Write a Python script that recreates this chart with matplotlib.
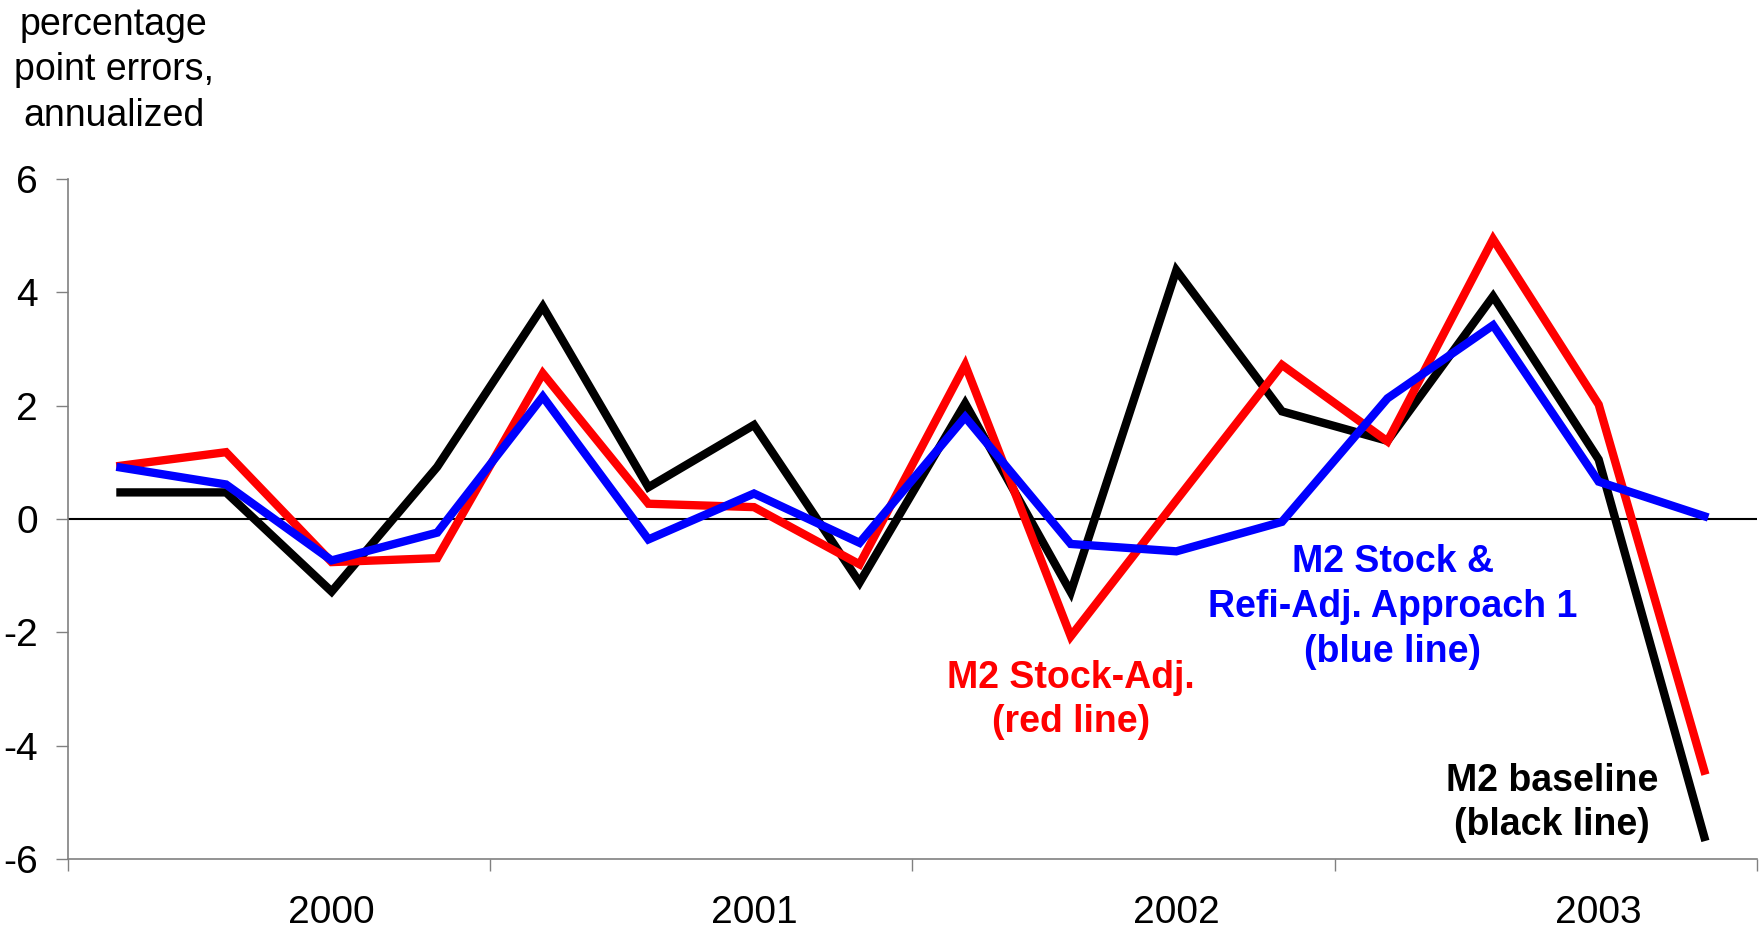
import numpy as np
import matplotlib
matplotlib.use('Agg')
import matplotlib.pyplot as plt
from matplotlib import rc

# quarterly forecast errors, 2000Q1 .. 2003Q4
quarters = np.arange(16)
baseline = [0.47, 0.47, -1.28, 0.92, 3.75, 0.56, 1.66, -1.12, 2.04, -1.29, 4.39, 1.90, 1.38, 3.93, 1.05, -5.61]
stock_adj = [0.94, 1.18, -0.76, -0.69, 2.57, 0.27, 0.21, -0.80, 2.72, -2.07, 0.33, 2.72, 1.37, 4.94, 2.02, -4.44]
refi_adj = [0.91, 0.61, -0.73, -0.24, 2.16, -0.36, 0.45, -0.42, 1.80, -0.44, -0.57, -0.05, 2.13, 3.42, 0.66, 0.05]

years = ['2000', '2001', '2002', '2003']
year_label_pos = [2, 6, 10, 14]
year_bounds = [-0.5, 3.5, 7.5, 11.5, 15.5]
yticks = [-6, -4, -2, 0, 2, 4, 6]

FONT = 'Liberation Sans'
rc('font', family=FONT)

fig = plt.figure(figsize=(17.62, 9.30), dpi=100)
ax = fig.add_axes([0.0384, 0.0763, 0.9588, 0.7312])

ax.axhline(0, color='k', lw=1.5, zorder=1)
ax.plot(quarters, baseline, color='black', lw=6, solid_joinstyle='miter', zorder=2)
ax.plot(quarters, stock_adj, color='#ff0000', lw=6, solid_joinstyle='miter', zorder=3)
ax.plot(quarters, refi_adj, color='#0000ff', lw=6, solid_joinstyle='miter', zorder=4)

ax.set_xlim(-0.5, 15.5)
ax.set_ylim(-6, 6)
ax.set_yticks(yticks)
ax.set_yticklabels([str(v) for v in yticks])

ax.set_xticks(year_bounds)
ax.set_xticklabels([''] * len(year_bounds))
ax.set_xticks(year_label_pos, minor=True)
ax.set_xticklabels(years, minor=True)

grey = '#808080'
ax.tick_params(axis='y', direction='out', length=8.4, width=1, color=grey,
               labelsize=28, pad=13)
ax.tick_params(axis='x', which='major', direction='out', length=8.4, width=1, color=grey)
ax.tick_params(axis='x', which='minor', length=0, labelsize=28, pad=26)

ax.spines[['top', 'right']].set_visible(False)
for s in ('left', 'bottom'):
  ax.spines[s].set_color(grey)
  ax.spines[s].set_linewidth(1.2)

fig.text(0.0645, 0.993, 'percentage\npoint errors,\nannualized', ha='center', va='top',
         fontsize=27, linespacing=1.35)

ax.text(9.0, -3.19, 'M2 Stock-Adj.\n(red line)', color='#ff0000', fontsize=27,
        fontweight='bold', ha='center', va='center', linespacing=1.3)
ax.text(12.05, -1.55, 'M2 Stock &\nRefi-Adj. Approach 1\n(blue line)', color='#0000ff',
        fontsize=27, fontweight='bold', ha='center', va='center', linespacing=1.33)
ax.text(13.56, -5.01, 'M2 baseline\n(black line)', color='black', fontsize=27,
        fontweight='bold', ha='center', va='center', linespacing=1.3)

plt.savefig('out.png', dpi=100)
